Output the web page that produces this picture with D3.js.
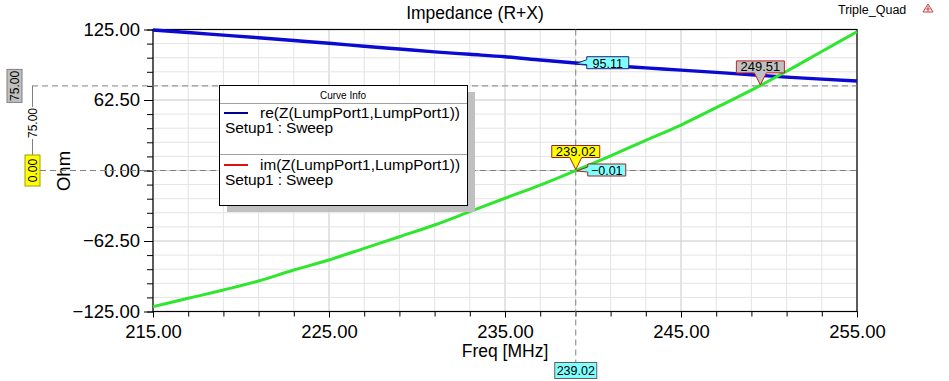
<!DOCTYPE html>
<html><head><meta charset="utf-8">
<script src="https://cdn.jsdelivr.net/npm/d3@7"></script>
<style>body{margin:0;background:#fff}svg{display:block;font-family:"Liberation Sans",Arial,sans-serif}</style>
</head><body><svg id="c" width="949" height="381"></svg>
<script>
const freqs = [215,217,219,221,223,225,227,229,231,233,235,237,239,241,243,245,247,249,251,253,255];
const reZ = [124.5,122.3,120,117.7,115.2,112.8,110.2,107.7,105.2,103,100.8,98,95.3,93,91,89,87,84.9,82.8,81,79.3];
const imZ = [-120.7,-113.3,-105.9,-98,-88.2,-79.3,-69,-58.7,-48.3,-36.5,-24.6,-12.9,-0.15,13,26.8,40.3,55.7,71.2,88,105.5,123];
const xTicks = [215,225,235,245,255];
const yTicks = [125,62.5,0,-62.5,-125];
const seriesNames = ["re(Z(LumpPort1,LumpPort1))","im(Z(LumpPort1,LumpPort1))"];
const markerX = 239.02, markerRe = 95.11, markerIm = -0.01, markerX2 = 249.51, markerY2 = 75, markerY0 = 0;

const svg = d3.select("#c");
const L=153,R=857,T=29.5,B=311.5;
const x = d3.scaleLinear().domain([215,255]).range([L,R]);
const y = d3.scaleLinear().domain([-125,125]).range([B,T]);

// grid
const g = svg.append("g");
d3.range(215,255.01,2).forEach(v=>{
  g.append("line").attr("x1",x(v)).attr("x2",x(v)).attr("y1",T).attr("y2",B)
   .attr("stroke", (v-215)%10===0 ? "#c8c8c8" : "#e4e4e4").attr("stroke-width",1);
});
d3.range(-125,125.01,12.5).forEach(v=>{
  const major = Math.abs((v+125)%62.5)<1e-6;
  g.append("line").attr("x1",L).attr("x2",R).attr("y1",y(v)).attr("y2",y(v))
   .attr("stroke", major ? "#c8c8c8" : "#e4e4e4").attr("stroke-width",1);
});

// axes
const xAxis = d3.axisBottom(x).tickValues(xTicks).tickFormat(d3.format(".2f")).tickSize(6).tickPadding(4);
const xMinor = d3.axisBottom(x).tickValues(d3.range(215,255.01,2)).tickFormat("").tickSize(5);
const yAxis = d3.axisLeft(y).tickValues(yTicks).tickFormat(d3.format(".2f")).tickSize(9).tickPadding(4);
const yMinor = d3.axisLeft(y).tickValues(d3.range(-125,125.01,12.5)).tickFormat("").tickSize(6);
[xMinor,xAxis].forEach(a=>{
  const ga = svg.append("g").attr("transform",`translate(0,${B})`).call(a);
  ga.select(".domain").remove();
  ga.selectAll("line").attr("stroke","#000");
  ga.selectAll("text").attr("font-size",18.5).attr("fill","#000").attr("font-family","Liberation Sans, Arial").attr("dy","0.9em");
});
[yMinor,yAxis].forEach(a=>{
  const ga = svg.append("g").attr("transform",`translate(${L},0)`).call(a);
  ga.select(".domain").remove();
  ga.selectAll("line").attr("stroke","#000");
  ga.selectAll("text").attr("font-size",18.5).attr("fill","#000").attr("font-family","Liberation Sans, Arial");
});
svg.append("rect").attr("x",L).attr("y",T).attr("width",R-L).attr("height",B-T)
  .attr("fill","none").attr("stroke","#000").attr("stroke-width",1.2);

// titles
svg.append("text").attr("x",475).attr("y",19).attr("text-anchor","middle").attr("font-size",17.5).text("Impedance (R+X)");
svg.append("text").attr("x",505).attr("y",357).attr("text-anchor","middle").attr("font-size",17.5).text("Freq [MHz]");
svg.append("text").attr("transform","translate(70,171) rotate(-90)").attr("text-anchor","middle").attr("font-size",18.5).text("Ohm");
svg.append("text").attr("x",838).attr("y",14).attr("font-size",12.5).text("Triple_Quad");
svg.append("path").attr("d","M928,4 L923,12 L933,12 Z").attr("fill","none").attr("stroke","#c04040").attr("stroke-width",1);
svg.append("path").attr("d","M928,6 L928,12 M925.5,9 L930.5,9").attr("stroke","#c04040").attr("stroke-width",1);

// dashed marker lines
const dash = "6,4";
svg.append("line").attr("x1",x(markerX)).attr("x2",x(markerX)).attr("y1",T).attr("y2",362).attr("stroke","#808080").attr("stroke-dasharray",dash);
svg.append("line").attr("x1",32).attr("x2",R).attr("y1",y(markerY2)).attr("y2",y(markerY2)).attr("stroke","#808080").attr("stroke-dasharray",dash);
svg.append("line").attr("x1",40).attr("x2",R).attr("y1",y(markerY0)).attr("y2",y(markerY0)).attr("stroke","#808080").attr("stroke-dasharray",dash);

// curves
const line = d3.line().x((d,i)=>x(freqs[i])).y(d=>y(d)).curve(d3.curveMonotoneX);
svg.append("path").datum(reZ).attr("d",line).attr("fill","none").attr("stroke","#0a0ad2").attr("stroke-width",3.4);
svg.append("path").datum(imZ).attr("d",line).attr("fill","none").attr("stroke","#2ee62e").attr("stroke-width",3);

// left y markers
svg.append("line").attr("x1",32.5).attr("x2",32.5).attr("y1",y(markerY2)).attr("y2",y(markerY0)).attr("stroke","#808080");
function vbox(cx,cy,w,h,fill,stroke,txt){
  svg.append("rect").attr("x",cx-w/2).attr("y",cy-h/2).attr("width",w).attr("height",h).attr("fill",fill).attr("stroke",stroke);
  svg.append("text").attr("transform",`translate(${cx+4},${cy}) rotate(-90)`).attr("text-anchor","middle").attr("font-size",12).text(txt);
}
vbox(14.5,y(markerY2),15,33,"#c0c0c0","#808080",d3.format(".2f")(markerY2));
svg.append("rect").attr("x",27).attr("y",107).attr("width",11).attr("height",32).attr("fill","#fff");
svg.append("text").attr("transform",`translate(37,123) rotate(-90)`).attr("text-anchor","middle").attr("font-size",12).text(d3.format(".2f")(markerY2-markerY0));
vbox(32.5,y(markerY0),15,31,"#ffff00","#a0a000",d3.format(".2f")(markerY0));

// point markers
function leftTag(px,py,w,fill,stroke,txt){
  const h=12, bx=px+11;
  svg.append("path").attr("d",`M${px},${py} L${bx},${py-4} L${bx},${py-h/2-1} L${bx+w},${py-h/2-1} L${bx+w},${py+h/2-1} L${bx},${py+h/2-1} L${bx},${py+1} Z`)
    .attr("fill",fill).attr("stroke",stroke);
  svg.append("text").attr("x",bx+w/2).attr("y",py+4).attr("text-anchor","middle").attr("font-size",12.5).text(txt);
}
function downTag(px,py,w,fill,stroke,txt){
  const h=12, by=py-12;
  svg.append("path").attr("d",`M${px},${py} L${px-6},${by} L${px-w/2},${by} L${px-w/2},${by-h} L${px+w/2},${by-h} L${px+w/2},${by} L${px+6},${by} Z`)
    .attr("fill",fill).attr("stroke",stroke);
  svg.append("text").attr("x",px).attr("y",by-2).attr("text-anchor","middle").attr("font-size",13).text(txt);
}
leftTag(x(markerX),y(markerRe)+0.5,42,"#80ffff","#202080",d3.format(".2f")(markerRe));
leftTag(x(markerX)+1,y(markerIm)+0.5,38,"#80ffff","#a02020",d3.format(".2f")(markerIm));
downTag(x(markerX),y(markerIm)-1,48,"#ffff00","#a02020",d3.format(".2f")(markerX));
downTag(x(markerX2),y(markerY2)-1,48,"#c0c0c0","#c02020",d3.format(".2f")(markerX2));
// bottom x marker
svg.append("rect").attr("x",x(markerX)-21).attr("y",362.5).attr("width",42).attr("height",16).attr("fill","#80ffff").attr("stroke","#606060");
svg.append("text").attr("x",x(markerX)).attr("y",375).attr("text-anchor","middle").attr("font-size",12.5).text(d3.format(".2f")(markerX));

// legend
const lg = svg.append("g");
lg.append("rect").attr("x",227).attr("y",92).attr("width",248).attr("height",120).attr("fill","#c0c0c0");
lg.append("rect").attr("x",219.5).attr("y",85.5).attr("width",248).attr("height",120).attr("fill","#fff").attr("stroke","#000");
lg.append("text").attr("x",343).attr("y",99).attr("text-anchor","middle").attr("font-size",10).text("Curve Info");
lg.append("line").attr("x1",220).attr("x2",467).attr("y1",103.5).attr("y2",103.5).attr("stroke","#a0a0a0");
lg.append("line").attr("x1",220).attr("x2",467).attr("y1",154.5).attr("y2",154.5).attr("stroke","#a0a0a0");
const legColors = ["#000090","#e01010"];
[113,165].forEach((ly,i)=>{
  lg.append("line").attr("x1",224).attr("x2",248).attr("y1",ly).attr("y2",ly).attr("stroke",legColors[i]).attr("stroke-width",2);
  lg.append("text").attr("x",260).attr("y",ly+5).attr("font-size",15.5).attr("textLength",200).attr("lengthAdjust","spacingAndGlyphs").text(seriesNames[i]);
  lg.append("text").attr("x",225).attr("y",ly+20).attr("font-size",15.5).attr("textLength",108).attr("lengthAdjust","spacing").text("Setup1 : Sweep");
});
</script></body></html>
